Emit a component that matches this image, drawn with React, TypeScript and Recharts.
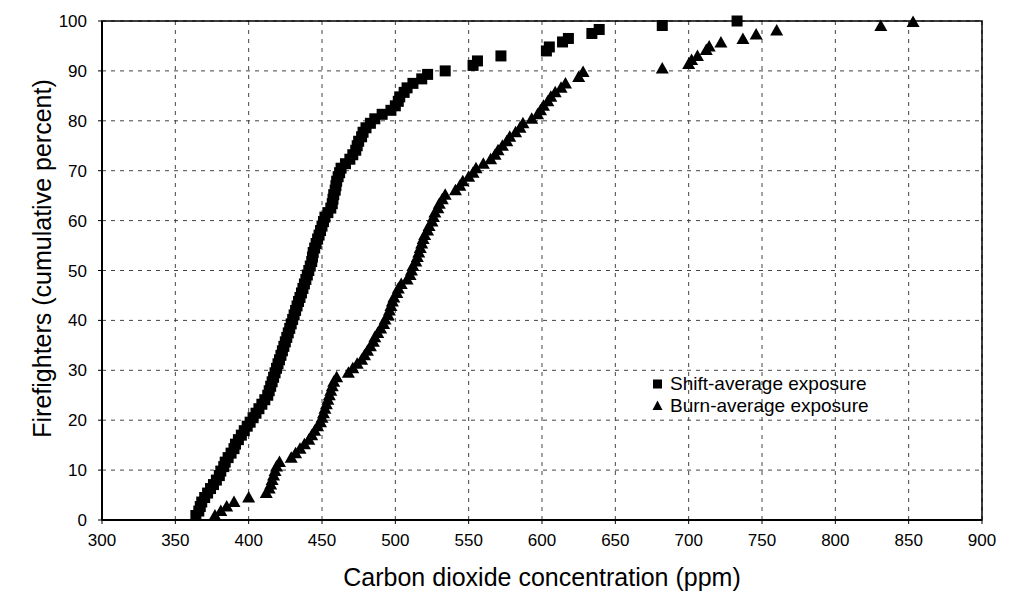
import React from 'react';
import { ScatterChart, Scatter, XAxis, YAxis, CartesianGrid, ReferenceArea, Legend } from 'recharts';

const xTicks = [300, 350, 400, 450, 500, 550, 600, 650, 700, 750, 800, 850, 900];
const yTicks = [0, 10, 20, 30, 40, 50, 60, 70, 80, 90, 100];

// [ppm, cumulative percent]
const shiftExposure: [number, number][] = [
  [364, 0.9], [366, 1.8], [367, 2.7], [368, 3.6], [370, 4.5], [372, 5.4], [374, 6.3], [376, 7.1], [378, 8.0], [380, 8.9],
  [381, 9.8], [383, 10.7], [384, 11.6], [386, 12.5], [388, 13.4], [390, 14.3], [391, 15.2], [393, 16.1], [395, 17.0], [397, 17.9],
  [399, 18.8], [401, 19.6], [403, 20.5], [405, 21.4], [407, 22.3], [409, 23.2], [411, 24.1], [413, 25.0], [414, 25.9], [415, 26.8],
  [416, 27.7], [417, 28.6], [418, 29.5], [419, 30.4], [420, 31.3], [421, 32.1], [422, 33.0], [423, 33.9], [424, 34.8], [425, 35.7],
  [426, 36.6], [427, 37.5], [428, 38.4], [429, 39.3], [430, 40.2], [431, 41.1], [432, 42.0], [433, 42.9], [434, 43.8], [435, 44.6],
  [436, 45.5], [437, 46.4], [438, 47.3], [439, 48.2], [440, 49.1], [441, 50.0], [442, 50.9], [443, 51.8], [443.5, 52.7], [444, 53.6],
  [445, 54.5], [446, 55.4], [447, 56.3], [448, 57.1], [449, 58.0], [450, 58.9], [451, 59.8], [452, 60.7], [454, 61.6], [456, 62.5],
  [457, 63.4], [457.5, 64.3], [458, 65.2], [459, 66.1], [459.5, 67.0], [460, 67.9], [461, 68.8], [462, 69.6], [463, 70.5], [466, 71.4],
  [469, 72.3], [471, 73.2], [473, 74.1], [474, 75.0], [475, 75.9], [477, 76.8], [478, 77.7], [480, 78.6], [483, 79.5], [486, 80.4],
  [491, 81.3], [497, 82.1], [500, 83.0], [502, 83.9], [503, 84.8], [506, 85.7], [508, 86.6], [512, 87.5], [518, 88.4], [522, 89.3],
  [534, 90.0], [553, 91.1], [556, 92.0], [572, 93.0], [603, 94.0], [605, 94.8], [614, 95.8], [618, 96.5], [634, 97.5], [639, 98.3],
  [682, 99.1], [733, 100],
];

const burnExposure: [number, number][] = [
  [377, 0.9], [381, 1.8], [385, 2.7], [390, 3.6], [400, 4.5], [412, 5.4], [414, 6.3], [415, 7.1], [416, 8.0], [417, 8.9],
  [418, 9.8], [419, 10.7], [421, 11.6], [429, 12.5], [432, 13.4], [435, 14.3], [438, 15.2], [441, 16.1], [443, 17.0], [445, 17.9],
  [447, 18.8], [449, 19.6], [450, 20.5], [451, 21.4], [452, 22.3], [453, 23.2], [454, 24.1], [455, 25.0], [456, 25.9], [457, 26.8],
  [458, 27.7], [460, 28.6], [468, 29.5], [471, 30.4], [474, 31.3], [477, 32.1], [479, 33.0], [481, 33.9], [483, 34.8], [485, 35.7],
  [486, 36.6], [488, 37.5], [490, 38.4], [492, 39.3], [493, 40.2], [495, 41.1], [496, 42.0], [497, 42.9], [498, 43.8], [499, 44.6],
  [501, 45.5], [502, 46.4], [504, 47.3], [508, 48.2], [510, 49.1], [511, 50.0], [512, 50.9], [514, 51.8], [515, 52.7], [516, 53.6],
  [517, 54.5], [518, 55.4], [519, 56.3], [520, 57.1], [522, 58.0], [523, 58.9], [525, 59.8], [526, 60.7], [527, 61.6], [529, 62.5],
  [530, 63.4], [532, 64.3], [534, 65.2], [541, 66.1], [544, 67.0], [546, 67.9], [550, 68.8], [553, 69.6], [555, 70.5], [560, 71.4],
  [565, 72.3], [568, 73.2], [570, 74.1], [573, 75.0], [576, 75.9], [578, 76.8], [582, 77.7], [585, 78.6], [587, 79.5], [593, 80.4],
  [597, 81.3], [599, 82.1], [601, 83.0], [604, 83.9], [606, 84.8], [609, 85.7], [613, 86.6], [616, 87.5], [625, 88.8], [628, 89.8],
  [682, 90.5], [700, 91.4], [702, 92.2], [706, 93.0], [712, 94.2], [714, 94.9], [722, 95.7], [737, 96.4], [746, 97.3], [760, 98.1],
  [831, 99.0], [853, 99.8],
];

const seriesNames = ['Shift-average exposure', 'Burn-average exposure'];
const xTitle = 'Carbon dioxide concentration (ppm)';
const yTitle = 'Firefighters (cumulative percent)';

const FONT = '"Liberation Sans", Arial, Helvetica, sans-serif';

const shiftData = shiftExposure.map(([x, y]) => ({ x, y }));
const burnData = burnExposure.map(([x, y]) => ({ x, y }));

const SquareShape = (p: any) => (
  <rect x={p.cx - 5.5} y={p.cy - 5.5} width={11} height={11} fill="#000" />
);
const TriangleShape = (p: any) => (
  <polygon
    points={`${p.cx},${p.cy - 6.5} ${p.cx - 6.5},${p.cy + 5} ${p.cx + 6.5},${p.cy + 5}`}
    fill="#000"
  />
);

const XTitle = (props: any) => {
  const vb = props.viewBox || { x: 102, y: 520, width: 880, height: 71 };
  return (
    <text x={vb.x + vb.width / 2} y={vb.y + 66} textAnchor="middle" fontSize={25} fontFamily={FONT} fill="#000">
      {xTitle}
    </text>
  );
};

const YTitle = (props: any) => {
  const vb = props.viewBox || { x: 0, y: 21, width: 102, height: 499 };
  const x = vb.x + 51;
  const y = vb.y + vb.height / 2 - 12;
  return (
    <text x={x} y={y} transform={`rotate(-90 ${x} ${y})`} textAnchor="middle" fontSize={25} fontFamily={FONT} fill="#000">
      {yTitle}
    </text>
  );
};

const LegendContent = () => (
  <div style={{ fontFamily: FONT, fontSize: 19, color: '#000', lineHeight: '22px' }}>
    {seriesNames.map((name, i) => (
      <div key={name} style={{ display: 'flex', alignItems: 'center', height: 22 }}>
        <svg width={20} height={22} style={{ display: 'block' }}>
          {i === 0 ? (
            <rect x={3} y={6.5} width={9} height={9} fill="#000" />
          ) : (
            <polygon points="7.5,5.5 2.5,15 12.5,15" fill="#000" />
          )}
        </svg>
        <span style={{ whiteSpace: 'nowrap' }}>{name}</span>
      </div>
    ))}
  </div>
);

export default function App() {
  return (
    <div style={{ position: 'fixed', left: 0, top: 0, background: '#fff' }}>
      <ScatterChart
        width={1016}
        height={591}
        margin={{ top: 21, right: 34, bottom: 0, left: 0 }}
        style={{ fontFamily: FONT }}
      >
        <CartesianGrid stroke="#444" strokeDasharray="4 5" strokeWidth={1} />
        <XAxis
          dataKey="x"
          type="number"
          domain={[300, 900]}
          ticks={xTicks}
          interval={0}
          height={71}
          tickSize={4}
          tickMargin={10}
          axisLine={{ stroke: '#000', strokeWidth: 2 }}
          tickLine={{ stroke: '#000' }}
          tick={{ fill: '#000', fontSize: 17, fontFamily: FONT }}
          label={{ content: XTitle }}
        />
        <YAxis
          dataKey="y"
          type="number"
          domain={[0, 100]}
          ticks={yTicks}
          interval={0}
          width={102}
          tickSize={4}
          tickMargin={11}
          axisLine={{ stroke: '#000', strokeWidth: 2 }}
          tickLine={{ stroke: '#000' }}
          tick={{ fill: '#000', fontSize: 17, fontFamily: FONT }}
          label={{ content: YTitle }}
        />
        <ReferenceArea x1={300} x2={900} y1={0} y2={100} fill="none" stroke="#000" strokeWidth={1.5} />
        <Scatter name={seriesNames[0]} data={shiftData} shape={SquareShape} isAnimationActive={false} />
        <Scatter name={seriesNames[1]} data={burnData} shape={TriangleShape} isAnimationActive={false} />
        <Legend
          layout="horizontal"
          verticalAlign="middle"
          align="center"
          wrapperStyle={{ left: 650, top: 373, width: 260, height: 44 }}
          content={LegendContent}
        />
      </ScatterChart>
    </div>
  );
}
